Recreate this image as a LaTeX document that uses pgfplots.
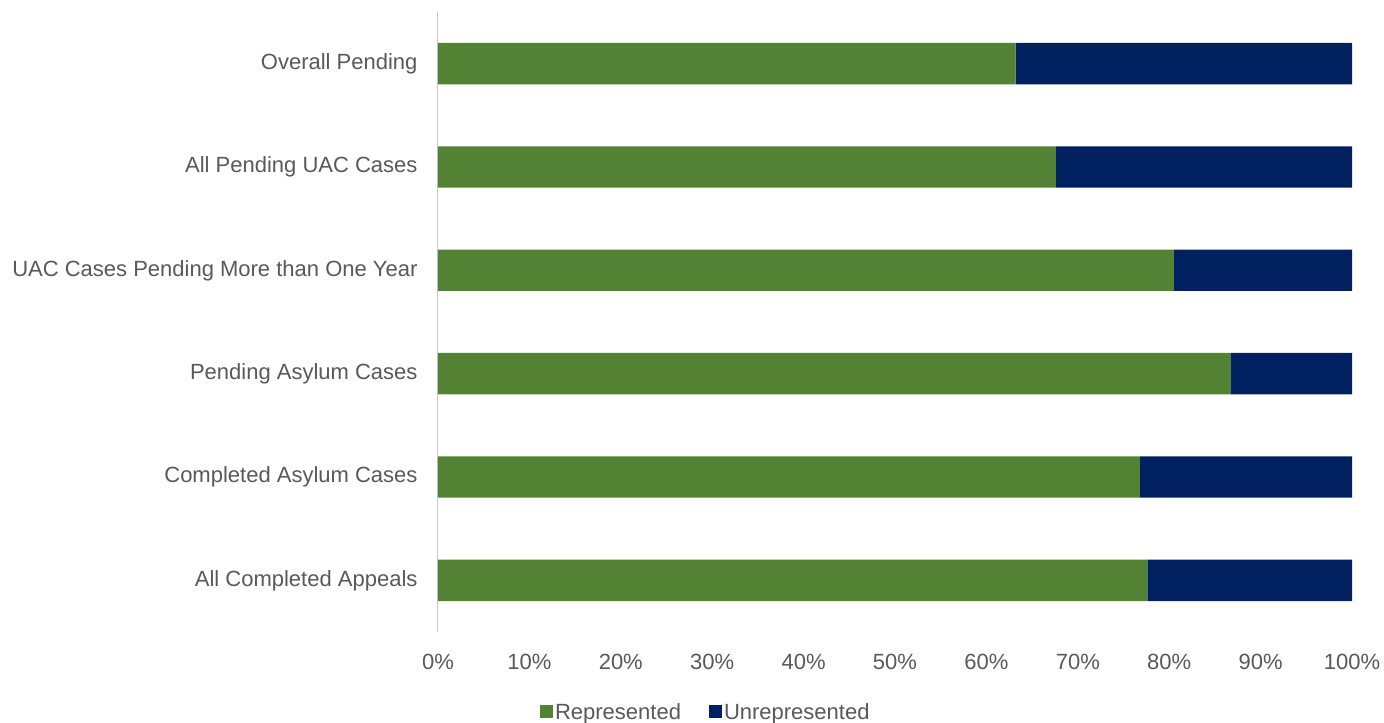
\documentclass[border=0pt]{standalone}
\usepackage{pgfplots}
\pgfplotsset{compat=1.18}
\usepackage{fontspec}
\setmainfont{Liberation Sans}
\definecolor{repgreen}{RGB}{84,130,53}
\definecolor{unrepnavy}{RGB}{0,32,96}
\definecolor{txtgray}{RGB}{89,89,89}
\definecolor{axgray}{RGB}{200,200,200}
\begin{document}
\begin{tikzpicture}
\useasboundingbox (-438bp,-91bp) rectangle (946bp,632bp);
\begin{axis}[
  at={(0,0)}, anchor=south west,
  scale only axis,
  width=914bp, height=620bp,
  xbar stacked,
  bar width=0.4,
  xmin=0, xmax=100,
  ymin=-0.5, ymax=5.5,
  xtick={0,10,...,100},
  xticklabel={\pgfmathprintnumber{\tick}\%},
  /pgf/number format/assume math mode=true,
  ytick={0,1,2,3,4,5},
  yticklabels={All Completed Appeals, Completed Asylum Cases, Pending Asylum Cases, UAC Cases Pending More than One Year, All Pending UAC Cases, Overall Pending},
  major tick length=0pt,
  axis x line*=bottom,
  axis y line*=left,
  x axis line style={draw=none},
  y axis line style={draw=axgray, line width=1bp},
  tick label style={font=\fontsize{22bp}{25bp}\selectfont, text=txtgray},
  xticklabel style={yshift=-19bp},
  yticklabel style={xshift=-17bp},
  legend style={at={(0.293,-0.129)}, anchor=center, draw=none, legend columns=2,
    font=\fontsize{22bp}{25bp}\selectfont, text=txtgray,
    /tikz/every odd column/.append style={column sep=0bp},
    /tikz/every even column/.append style={column sep=26bp},
    nodes={inner xsep=2bp}},
  legend image code/.code={\fill[#1] (0bp,-6.5bp) rectangle (13bp,6.5bp);},
]
\addplot[fill=repgreen, draw=none] coordinates {(77.6,0) (76.8,1) (86.7,2) (80.5,3) (67.6,4) (63.2,5)};
\addplot[fill=unrepnavy, draw=none] coordinates {(22.4,0) (23.2,1) (13.3,2) (19.5,3) (32.4,4) (36.8,5)};
\legend{Represented, Unrepresented}
\end{axis}
\end{tikzpicture}
\end{document}
